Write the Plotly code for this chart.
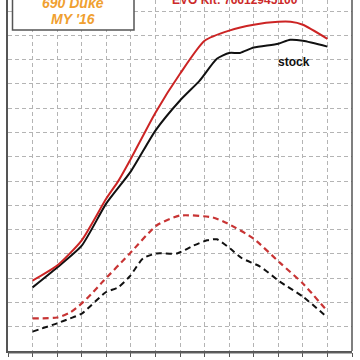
import plotly.graph_objects as go

# RPM positions and values
rpm_power_kit = [2000, 2500, 3000, 3500, 3750, 4000, 4500, 5000, 5500, 6000, 6500, 7000, 7250, 7500, 8000]
power_kit = [14.5, 17.6, 22.8, 31.4, 35.1, 39.6, 49.1, 57.1, 63.9, 66.0, 67.2, 67.8, 67.8, 67.2, 64.3]

rpm_power_stock = [2000, 2500, 3000, 3500, 4000, 4500, 5000, 5400, 5750, 6000, 6220, 6500, 7000, 7240, 7500, 8000]
power_stock = [13.1, 17.2, 21.7, 30.4, 37.0, 45.4, 51.6, 55.7, 60.2, 61.4, 61.4, 62.5, 63.3, 64.1, 63.9, 62.7]

rpm_torque_kit = [2000, 2500, 2760, 3000, 3230, 3430, 3980, 4530, 5000, 5670, 5960, 6490, 7030, 7500, 8000]
torque_kit = [6.7, 6.9, 7.9, 9.8, 12.1, 14.3, 20.1, 25.9, 27.9, 27.5, 26.3, 23.2, 18.2, 13.9, 8.2]

rpm_torque_stock = [2000, 2500, 2760, 3000, 3490, 3740, 3980, 4250, 4530, 4940, 5270, 5550, 5750, 6020, 6260, 6630, 7030, 7500, 8000]
torque_stock = [4.0, 5.7, 6.7, 7.7, 12.1, 13.1, 15.4, 19.1, 20.1, 20.1, 21.7, 22.8, 23.0, 21.1, 19.1, 17.4, 14.3, 11.2, 6.9]

x_ticks = [1500, 2000, 2500, 3000, 3500, 4000, 4500, 5000, 5500, 6000, 6500, 7000, 7500, 8000, 8500]

RED = "#cc2424"
BLACK = "#111111"

fig = go.Figure()
fig.add_trace(go.Scatter(x=rpm_torque_stock, y=torque_stock, mode="lines",
                         line=dict(color=BLACK, width=2, dash="6px,4px", shape="spline", smoothing=0.6)))
fig.add_trace(go.Scatter(x=rpm_torque_kit, y=torque_kit, mode="lines",
                         line=dict(color="#c83434", width=2.2, dash="6px,4px", shape="spline", smoothing=0.6)))
fig.add_trace(go.Scatter(x=rpm_power_stock, y=power_stock, mode="lines",
                         line=dict(color=BLACK, width=2, shape="spline", smoothing=0.6)))
fig.add_trace(go.Scatter(x=rpm_power_kit, y=power_kit, mode="lines",
                         line=dict(color=RED, width=2, shape="spline", smoothing=0.6)))

fig.update_layout(
    width=360, height=360,
    margin=dict(l=8, r=8, t=0, b=9),
    paper_bgcolor="white", plot_bgcolor="white",
    showlegend=False,
    xaxis=dict(range=[1500, 8500], tickvals=x_ticks, ticktext=[str(v) for v in x_ticks],
               showgrid=True, gridcolor="#b4b4b4", griddash="4px,3px", gridwidth=1,
               zeroline=False, showline=True, linecolor="#555555", linewidth=1.5,
               ticks="outside", ticklen=4, tickcolor="#555555",
               tickfont=dict(family="Liberation Sans", size=10, color="#333333"),
               automargin=False),
    yaxis=dict(range=[0, 72.3], dtick=5, showgrid=True, gridcolor="#b4b4b4", griddash="4px,3px",
               gridwidth=1, zeroline=False, showline=True, linecolor="#555555", linewidth=1.5,
               showticklabels=False, ticks="", automargin=False),
)

# right border and second bottom line
fig.add_shape(type="line", xref="paper", yref="paper", x0=1, x1=1, y0=0, y1=1,
              line=dict(color="#555555", width=1.5))
fig.add_shape(type="line", xref="paper", yref="paper", x0=0, x1=1, y0=-2/351, y1=-2/351,
              line=dict(color="#666666", width=1))

# top-left label box
fig.add_shape(type="rect", xref="paper", yref="paper",
              x0=(12.5 - 8) / 344, x1=(134 - 8) / 344, y0=(351 - 30) / 351, y1=1.1,
              fillcolor="white", line=dict(color="#555555", width=1.5), layer="above")

fig.add_annotation(text="<b><i>690 Duke</i></b>", xref="paper", yref="paper",
                   x=(73 - 8) / 344, y=(351 - 3) / 351, xanchor="center", yanchor="middle",
                   showarrow=False, font=dict(family="Liberation Sans", size=14, color="#f0a030"))
fig.add_annotation(text="<b><i>MY '16</i></b>", xref="paper", yref="paper",
                   x=(73 - 8) / 344, y=(351 - 19) / 351, xanchor="center", yanchor="middle",
                   showarrow=False, font=dict(family="Liberation Sans", size=14, color="#f0a030"))
fig.add_annotation(text="<b>EVO Kit: 76612945100</b>", xref="paper", yref="paper",
                   x=(235 - 8) / 344, y=(351 - 0) / 351, xanchor="center", yanchor="middle",
                   showarrow=False, font=dict(family="Liberation Sans", size=12, color="#cc2a2a"))
fig.add_annotation(text="<b>stock</b>", xref="paper", yref="paper",
                   x=(294 - 8) / 344, y=(351 - 62) / 351, xanchor="center", yanchor="middle",
                   showarrow=False, font=dict(family="Liberation Sans", size=12, color="#111111"))

fig.write_html("out.html", config={"displayModeBar": False},
               post_script="document.body.style.margin='0';")
